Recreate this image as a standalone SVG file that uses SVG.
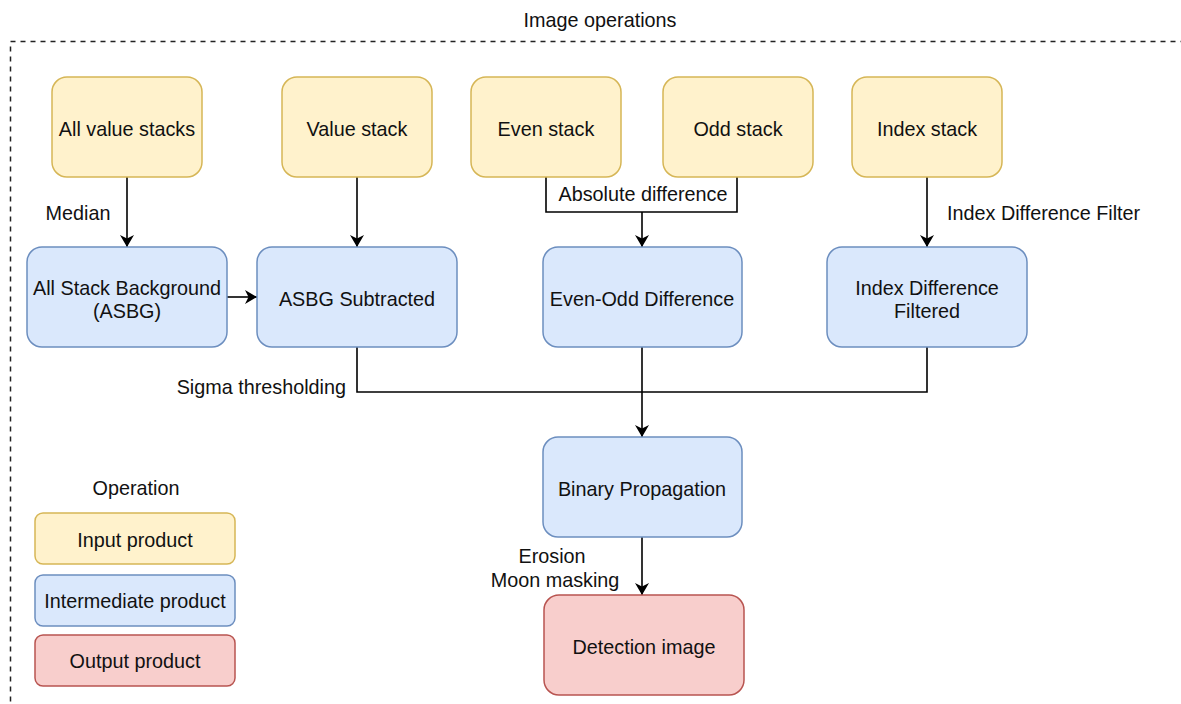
<svg xmlns="http://www.w3.org/2000/svg" width="1181" height="704" viewBox="0 0 1181 704">
  <defs>
    <marker id="arrow" viewBox="0 0 12 14" refX="12" refY="7" markerWidth="12" markerHeight="14" markerUnits="userSpaceOnUse" orient="auto">
      <path d="M0,0 L12,7 L0,14 L3.5,7 Z" fill="#000"/>
    </marker>
    <style>
      text { font-family: "Liberation Sans", Arial, sans-serif; font-size: 19.8px; fill: #111; }
      .c { text-anchor: middle; }
      .input { fill: #fff2cc; stroke: #d6b656; stroke-width: 1.5; }
      .mid { fill: #dae8fc; stroke: #6c8ebf; stroke-width: 1.5; }
      .out { fill: #f8cecc; stroke: #b85450; stroke-width: 1.5; }
      .edge { fill: none; stroke: #000; stroke-width: 1.6; }
      .arr { marker-end: url(#arrow); }
    </style>
  </defs>
  <rect width="1181" height="704" fill="#fff"/>

  <!-- group frame -->
  <g id="frame">
    <rect x="10.5" y="41.5" width="1200" height="700" fill="none" stroke="#222" stroke-width="1.5" stroke-dasharray="5 5"/>
    <text class="c" x="600" y="27">Image operations</text>
  </g>

  <!-- connectors -->
  <g id="connectors">
    <path class="edge arr" d="M127,177 V247"/>
    <path class="edge arr" d="M357,177 V247"/>
    <path class="edge arr" d="M227,297 H257"/>
    <path class="edge" d="M546,177 V212 H737 V177"/>
    <path class="edge arr" d="M642,212 V247"/>
    <path class="edge arr" d="M927,177 V247"/>
    <path class="edge" d="M357,347 V392 H927 V347"/>
    <path class="edge arr" d="M642,347 V437"/>
    <path class="edge arr" d="M642,537 V595"/>
    <rect x="553" y="183" width="181" height="24" fill="#fff"/>
    <text class="c" x="643" y="201">Absolute difference</text>
    <text class="c" x="78" y="220">Median</text>
    <text x="947" y="220">Index Difference Filter</text>
    <text x="346" y="394" text-anchor="end">Sigma thresholding</text>
    <text class="c" x="552" y="563">Erosion</text>
    <text class="c" x="555" y="587">Moon masking</text>
  </g>

  <!-- input stacks -->
  <g id="all-value-stacks">
    <rect class="input" x="52" y="77" width="150" height="100" rx="15"/>
    <text class="c" x="127" y="136">All value stacks</text>
  </g>
  <g id="value-stack">
    <rect class="input" x="282" y="77" width="150" height="100" rx="15"/>
    <text class="c" x="357" y="136">Value stack</text>
  </g>
  <g id="even-stack">
    <rect class="input" x="471" y="77" width="150" height="100" rx="15"/>
    <text class="c" x="546" y="136">Even stack</text>
  </g>
  <g id="odd-stack">
    <rect class="input" x="663" y="77" width="150" height="100" rx="15"/>
    <text class="c" x="738" y="136">Odd stack</text>
  </g>
  <g id="index-stack">
    <rect class="input" x="852" y="77" width="150" height="100" rx="15"/>
    <text class="c" x="927" y="136">Index stack</text>
  </g>

  <!-- intermediate products -->
  <g id="asbg">
    <rect class="mid" x="27" y="247" width="200" height="100" rx="15"/>
    <text class="c" x="127" y="295">All Stack Background</text>
    <text class="c" x="127" y="318">(ASBG)</text>
  </g>
  <g id="asbg-subtracted">
    <rect class="mid" x="257" y="247" width="200" height="100" rx="15"/>
    <text class="c" x="357" y="306">ASBG Subtracted</text>
  </g>
  <g id="even-odd-difference">
    <rect class="mid" x="543" y="247" width="199" height="100" rx="15"/>
    <text class="c" x="642" y="306">Even-Odd Difference</text>
  </g>
  <g id="index-difference-filtered">
    <rect class="mid" x="827" y="247" width="200" height="100" rx="15"/>
    <text class="c" x="927" y="295">Index Difference</text>
    <text class="c" x="927" y="318">Filtered</text>
  </g>
  <g id="binary-propagation">
    <rect class="mid" x="543" y="437" width="199" height="100" rx="15"/>
    <text class="c" x="642" y="496">Binary Propagation</text>
  </g>

  <!-- output -->
  <g id="detection-image">
    <rect class="out" x="544" y="595" width="200" height="100" rx="15"/>
    <text class="c" x="644" y="654">Detection image</text>
  </g>

  <!-- legend -->
  <g id="legend">
    <text class="c" x="136" y="495">Operation</text>
    <rect class="input" x="35" y="513" width="200" height="51" rx="8"/>
    <text class="c" x="135" y="547">Input product</text>
    <rect class="mid" x="35" y="575" width="200" height="51" rx="8"/>
    <text class="c" x="135" y="608">Intermediate product</text>
    <rect class="out" x="35" y="635" width="200" height="51" rx="8"/>
    <text class="c" x="135" y="668">Output product</text>
  </g>
</svg>
